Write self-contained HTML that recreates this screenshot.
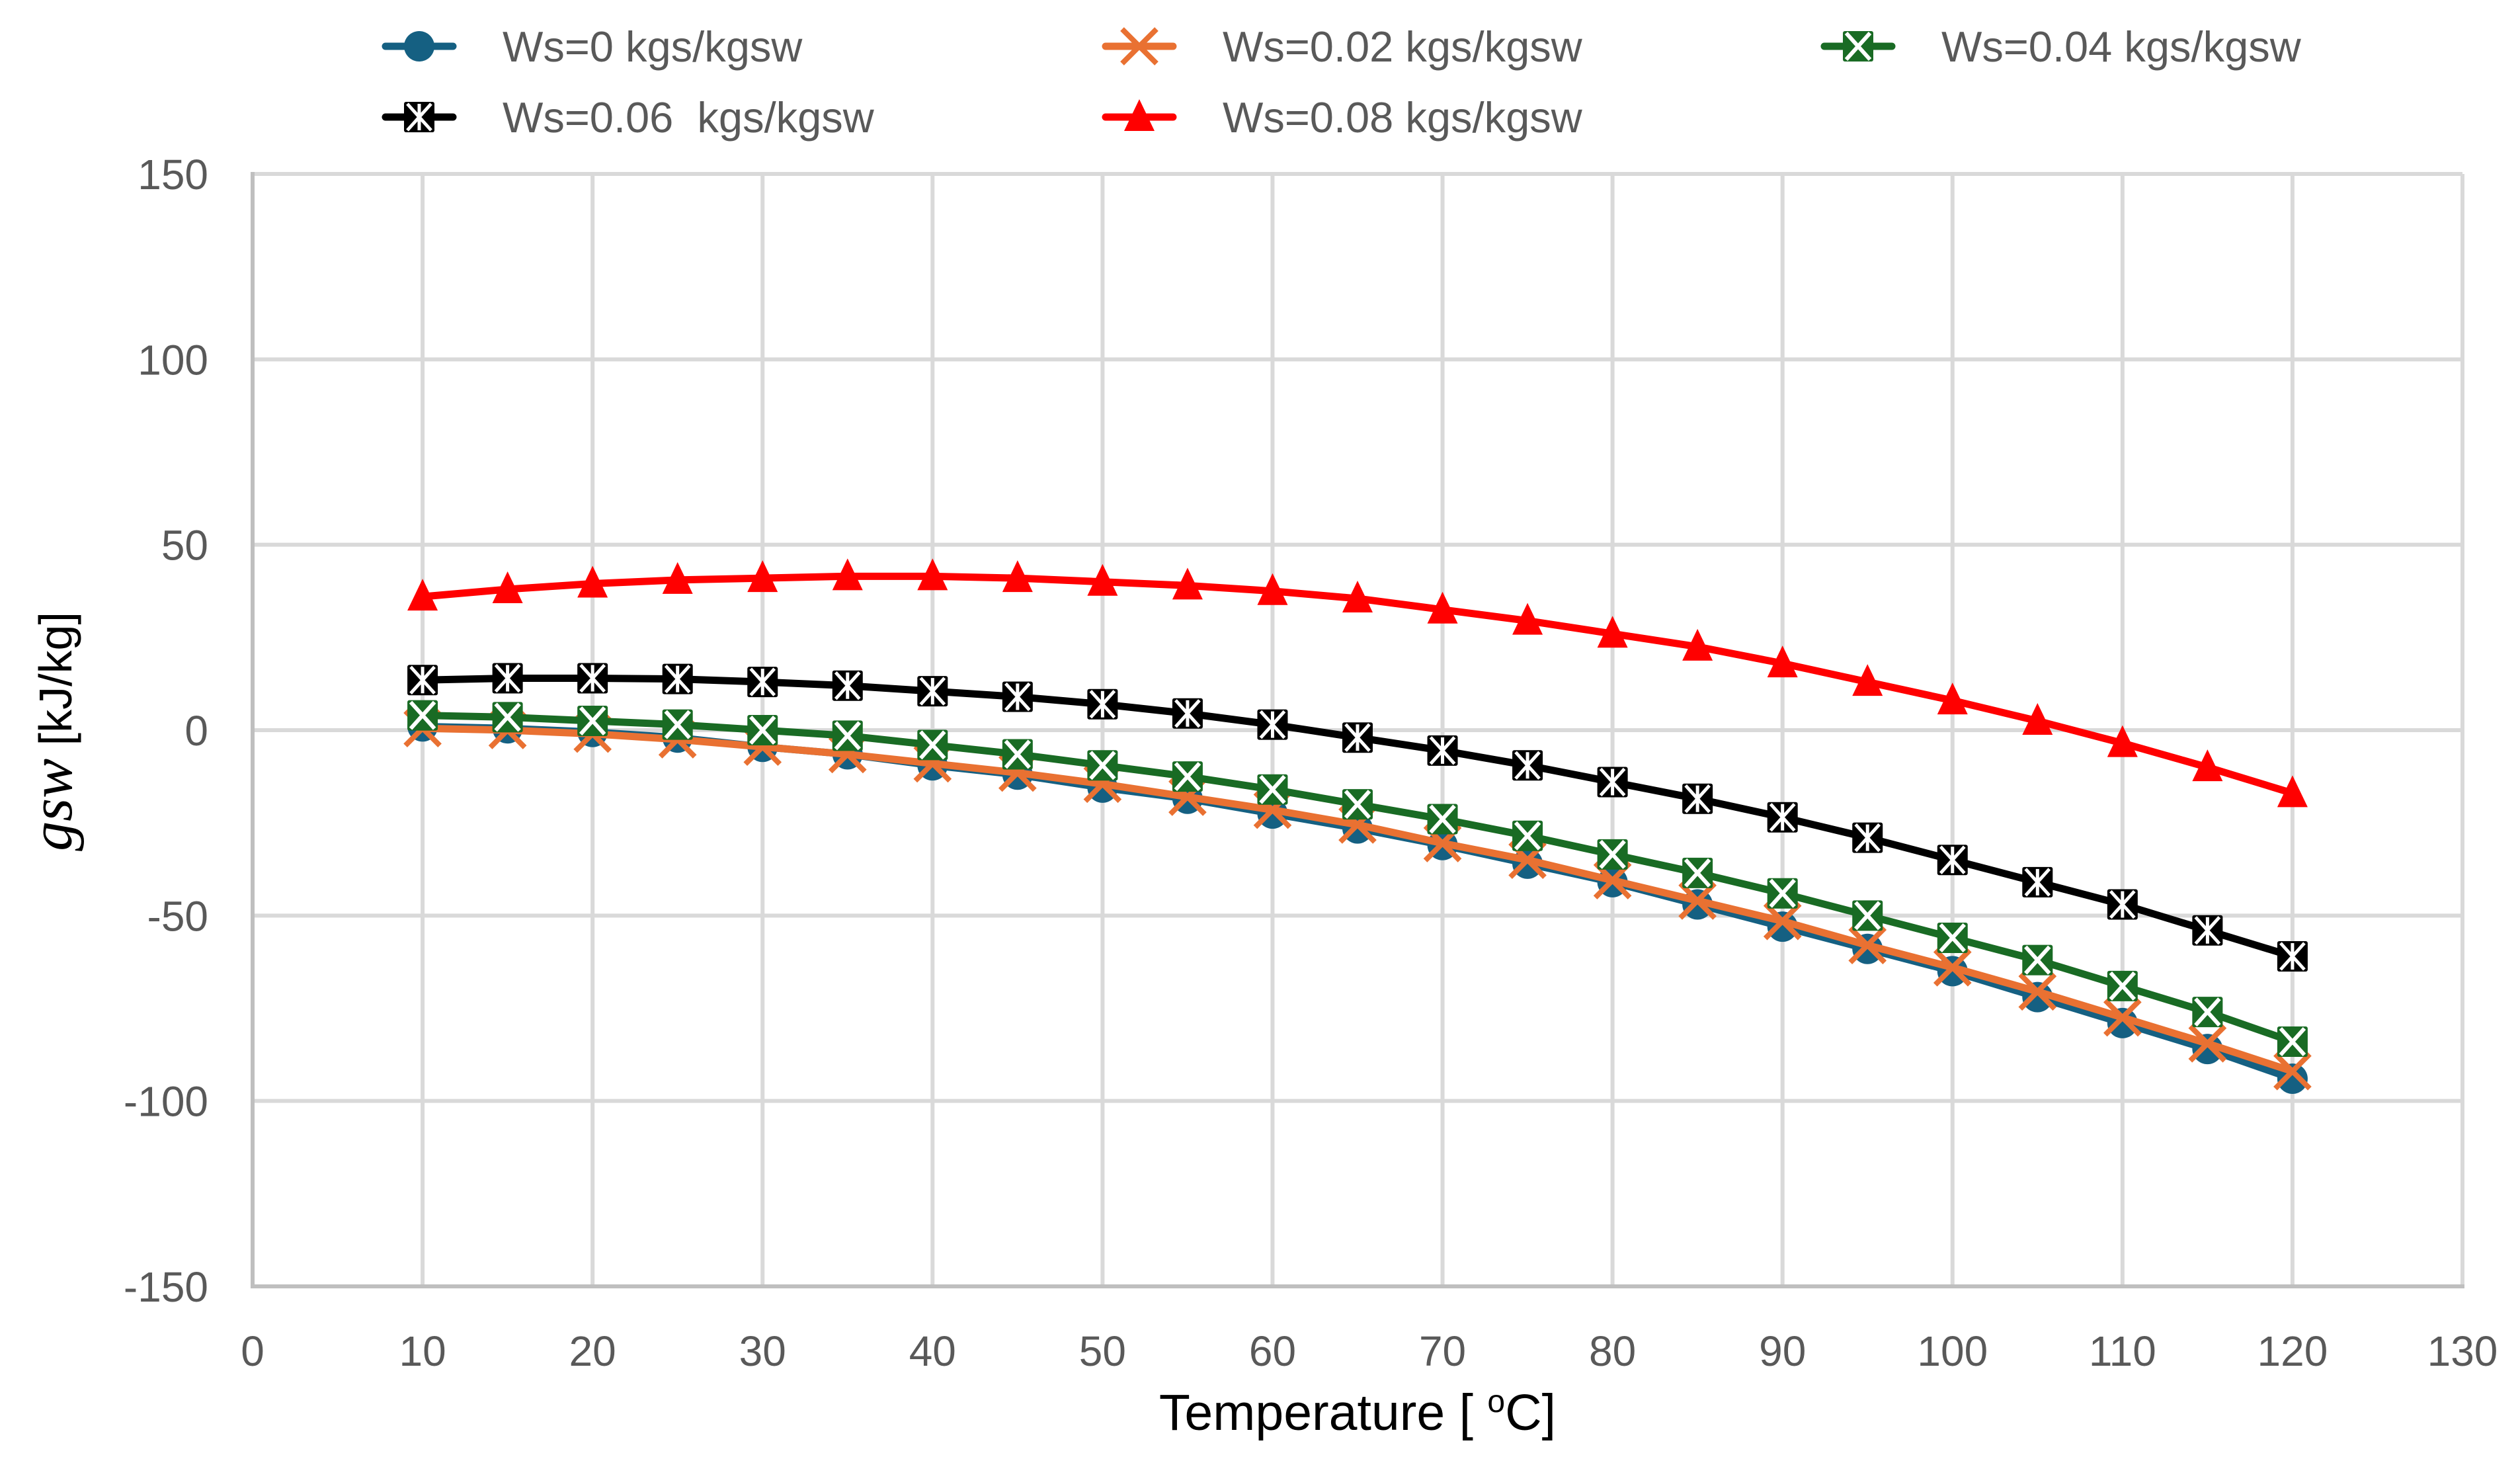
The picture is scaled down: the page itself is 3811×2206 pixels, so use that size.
<!DOCTYPE html>
<html><head><meta charset="utf-8"><style>
html,body{margin:0;padding:0;background:#fff}
svg{display:block}
text{font-family:"Liberation Sans",sans-serif}
</style></head><body>
<svg id="chart" width="3811" height="2206" viewBox="0 0 3811 2206">
<g id="grid"></g>
<g id="xticks"></g>
<g id="yticks"></g>
<g id="series"></g>
<g id="legend"></g>
<text x="2053" y="2162" text-anchor="middle" font-size="77" fill="#000">Temperature [ <tspan font-size="48" dy="-27">o</tspan><tspan dy="27">C]</tspan></text>
<text transform="translate(108,1106) rotate(-90)" text-anchor="middle" font-size="70" fill="#000"><tspan font-family="Liberation Serif,serif" font-style="italic" font-size="90">gsw</tspan>  [kJ/kg]</text>
</svg>
<script>
const temps=[10,15,20,25,30,35,40,45,50,55,60,65,70,75,80,85,90,95,100,105,110,115,120];
const ws0=[1,0.5,-0.5,-2,-4.5,-6.5,-9.5,-12,-15.5,-18.5,-22.5,-26.5,-31,-36,-41,-47,-53,-59,-65,-72,-79,-86,-94];
const ws02=[0.5,0,-1,-2.5,-4.5,-6.5,-9,-11.5,-14.5,-18,-21.5,-25.5,-30.5,-35,-40.5,-46,-51.5,-58,-64,-70.5,-77.5,-84.5,-92];
const ws04=[4,3.5,2.5,1.5,0,-1.5,-4,-6.5,-9.5,-12.5,-16,-20,-24,-28.5,-33.5,-38.5,-44,-50,-56,-62,-69,-76,-84];
const ws06=[13.5,14,14,13.8,13,12,10.5,9,7,4.5,1.5,-2,-5.5,-9.5,-14,-18.5,-23.5,-29,-35,-41,-47,-54,-61];
const ws08=[36,38,39.5,40.5,41,41.5,41.5,41,40,39,37.5,35.5,32.5,29.5,26,22.5,18,13,8,2.5,-3.5,-10,-17];
const xTicks=[0,10,20,30,40,50,60,70,80,90,100,110,120,130];
const yTicks=[150,100,50,0,-50,-100,-150];
const seriesNames=["Ws=0 kgs/kgsw","Ws=0.02 kgs/kgsw","Ws=0.04 kgs/kgsw","Ws=0.06  kgs/kgsw","Ws=0.08 kgs/kgsw"];

const NS="http://www.w3.org/2000/svg";
const L=382,R=3724,T=263,B=1945;
const X=v=>L+(v-0)/(130-0)*(R-L);
const Y=v=>B-(v+150)/300*(B-T);
function mk(tag,attrs,parent){const e=document.createElementNS(NS,tag);for(const k in attrs)e.setAttribute(k,attrs[k]);parent.appendChild(e);return e;}
const grid=document.getElementById('grid'),xt=document.getElementById('xticks'),yt=document.getElementById('yticks');
xTicks.forEach(v=>{
  if(v>0){const l=mk('line',{x1:X(v),x2:X(v),y1:T,y2:B,stroke:'#d9d9d9','stroke-width':6},grid);
  
  }
  const t=mk('text',{x:X(v),y:2065,'text-anchor':'middle','font-size':64,fill:'#595959'},xt);t.textContent=v;
  
  
});
yTicks.forEach(v=>{
  if(v>-150){const l=mk('line',{x1:L,x2:R,y1:Y(v),y2:Y(v),stroke:'#d9d9d9','stroke-width':6},grid);
  
  }
  const t=mk('text',{x:315,y:Y(v)+23,'text-anchor':'end','font-size':64,fill:'#595959'},yt);t.textContent=v;
  
  
});
const ax1=mk('line',{x1:L,x2:L,y1:T-3,y2:B,stroke:'#bfbfbf','stroke-width':6},grid);


const ax2=mk('line',{x1:L-3,x2:R+3,y1:B,y2:B,stroke:'#bfbfbf','stroke-width':6},grid);



const colors=['#156082','#e97132','#196b24','#000000','#ff0000'];
const kinds=['circle','x','boxx','star','tri'];
const data=[ws0,ws02,ws04,ws06,ws08];
function marker(kind,c,x,y,g){
  const s=23;
  if(kind==='circle'){mk('circle',{cx:x,cy:y,r:s,fill:c},g);}
  else if(kind==='x'){mk('path',{d:`M${x-s-3} ${y-s-3}L${x+s+3} ${y+s+3}M${x+s+3} ${y-s-3}L${x-s-3} ${y+s+3}`,stroke:c,'stroke-width':8,fill:'none'},g);}
  else if(kind==='boxx'){mk('rect',{x:x-s,y:y-s,width:2*s,height:2*s,fill:c,rx:3},g);
    mk('path',{d:`M${x-s+5} ${y-s+3}L${x+s-5} ${y+s-3}M${x+s-5} ${y-s+3}L${x-s+5} ${y+s-3}`,stroke:'#fff','stroke-width':6},g);}
  else if(kind==='star'){mk('rect',{x:x-s,y:y-s,width:2*s,height:2*s,fill:c,rx:3},g);
    mk('path',{d:`M${x-s+5} ${y-s+3}L${x+s-5} ${y+s-3}M${x+s-5} ${y-s+3}L${x-s+5} ${y+s-3}M${x} ${y-s+3}L${x} ${y+s-3}`,stroke:'#fff','stroke-width':5},g);}
  else {mk('path',{d:`M${x} ${y-s-4}L${x+s} ${y+s-2}L${x-s} ${y+s-2}Z`,fill:c},g);}
}
const sg=document.getElementById('series');
data.forEach((arr,i)=>{
  const g=mk('g',{},sg);
  
  
  const pts=arr.map((v,j)=>X(temps[j])+','+Y(v)).join(' ');
  const pl=mk('polyline',{points:pts,fill:'none',stroke:colors[i],'stroke-width':11,'stroke-linejoin':'round'},g);
  
  
  arr.forEach((v,j)=>marker(kinds[i],colors[i],X(temps[j]),Y(v),g));
});
const lg=document.getElementById('legend');
const lpos=[[583,70],[1672,70],[2759,70],[583,177],[1672,177]];
seriesNames.forEach((n,i)=>{
  const g=mk('g',{},lg);
  
  
  const [x,y]=lpos[i];
  mk('line',{x1:x,x2:x+102,y1:y,y2:y,stroke:colors[i],'stroke-width':11,'stroke-linecap':'round'},g);
  marker(kinds[i],colors[i],x+51,y,g);
  const t=mk('text',{x:x+177,y:y+23,'font-size':65,fill:'#595959'},g);t.textContent=n;
  t.setAttribute('xml:space','preserve');
  t.style.whiteSpace='pre';
});
</script>
</body></html>
